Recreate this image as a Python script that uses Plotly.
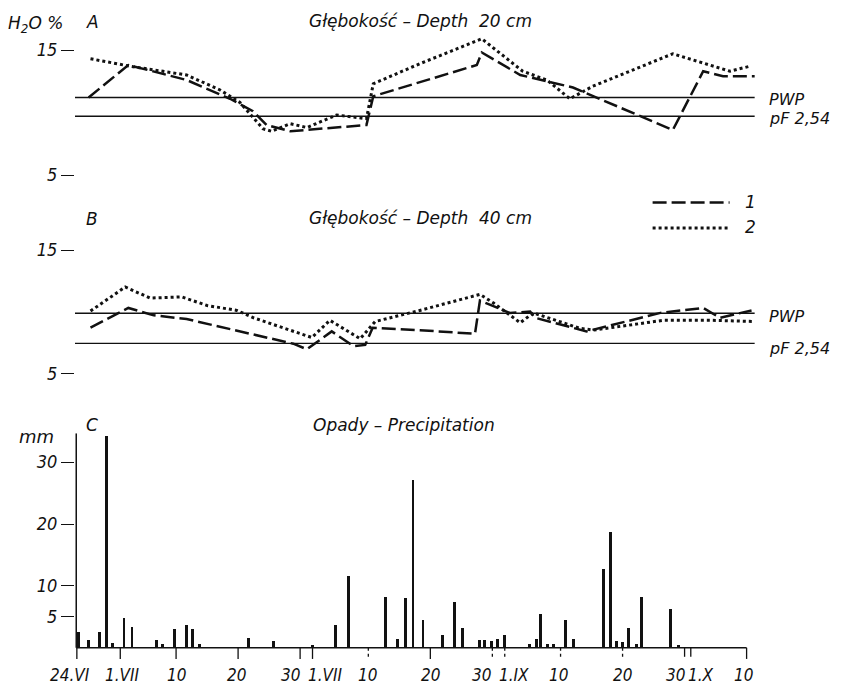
import plotly.graph_objects as go

# ---------------- data (x = days after 24 June) ----------------
# Panel A - depth 20 cm
a1_day = [1.9, 8.3, 17.7, 24.7, 28.4, 30.6, 34.4, 46.7, 47.8, 64.5, 65.3, 71.5, 80.0, 96.1, 101.0, 104.2, 109.3]
a1_val = [11.2, 13.8, 12.6, 11.1, 10.1, 9.0, 8.5, 9.0, 11.3, 13.8, 14.8, 13.0, 12.0, 8.6, 13.3, 12.9, 12.9]
a2_day = [2.2, 8.6, 17.7, 23.1, 26.3, 30.0, 31.4, 34.4, 37.1, 41.9, 46.7, 47.8, 55.3, 65.3, 71.9, 75.8, 79.5, 83.2, 96.1, 101.5, 105.3, 108.5]
a2_val = [14.3, 13.7, 13.0, 11.8, 10.8, 8.7, 8.5, 9.1, 8.8, 9.8, 9.5, 12.3, 13.9, 15.9, 13.3, 12.6, 11.1, 12.1, 14.7, 13.9, 13.3, 13.7]
a_pwp, a_pf = 11.2, 9.7

# Panel B - depth 40 cm
b1_day = [2.2, 8.3, 12.4, 17.7, 34.9, 37.1, 41.1, 44.6, 46.5, 47.7, 55.3, 64.2, 65.0, 69.8, 73.1, 73.9, 82.2, 94.1, 101.0, 103.7, 108.8]
b1_val = [8.7, 10.3, 9.7, 9.4, 7.4, 6.95, 8.4, 7.2, 7.3, 8.7, 8.5, 8.2, 10.9, 9.9, 10.0, 9.5, 8.4, 9.9, 10.3, 9.5, 10.1]
b2_day = [2.2, 7.8, 11.8, 16.9, 21.0, 25.8, 28.5, 37.9, 40.8, 45.7, 48.1, 55.3, 65.0, 67.2, 71.5, 73.6, 81.1, 83.3, 94.6, 102.1, 109.3]
b2_val = [10.05, 12.0, 11.1, 11.2, 10.5, 10.1, 9.5, 7.9, 9.3, 7.8, 9.2, 10.1, 11.4, 10.7, 9.1, 9.9, 8.65, 8.5, 9.3, 9.3, 9.2]
b_pwp, b_pf = 9.87, 7.43

# Panel C - precipitation (mm)
rain_day = [0.2, 1.9, 3.6, 4.8, 5.7, 7.6, 8.9, 12.8, 13.8, 15.7, 17.7, 18.6, 19.8, 27.7, 31.7,
            38.0, 41.7, 43.8, 49.8, 51.7, 53.0, 54.2, 55.8, 59.0, 60.9, 62.2, 64.9, 65.7, 66.8,
            67.8, 69.0, 73.0, 74.1, 74.8, 75.9, 76.8, 78.8, 80.1, 84.9, 86.1, 87.0, 88.0, 88.9,
            90.2, 91.0, 95.7, 97.0]
rain_mm = [2.5, 1.2, 2.5, 34.1, 0.7, 4.8, 3.3, 1.2, 0.6, 3.0, 3.6, 3.0, 0.6, 1.6, 1.0,
           0.4, 3.6, 11.6, 8.2, 1.4, 8.0, 27.0, 4.5, 2.0, 7.4, 3.1, 1.2, 1.2, 1.1,
           1.4, 2.0, 0.5, 1.4, 5.4, 0.5, 0.5, 4.5, 1.4, 12.7, 18.7, 1.0, 0.9, 3.2,
           0.5, 8.1, 6.2, 0.4]

tick_day = [0, 7, 16, 26, 36, 38, 47, 57, 67, 69, 78, 88, 98, 99, 108]
tick_text = ["24.VI", "1.VII", "10", "20", "30", "1.VII", "10", "20", "30", "1.IX", "10", "20", "30", "1.X", "10"]
tick_shift = [-7, 2, 0, -2, -10, 13, -1, 0, -11, 9, -2, 0, -9, 10, -3]
tick_dash = ["solid", "solid", "solid", "solid", "solid", "solid", "dot", "solid", "dot", "dot",
             "dot", "dot", "dash", "dash", "solid"]

# ---------------- layout geometry ----------------
W, H = 842, 685
PXD = 6.204
X0, X1 = -0.3, 110.0
L = 77 + X0 * PXD
PW = (X1 - X0) * PXD
R = W - L - PW

def xp(px):
    return (px - L) / PW

def yp(py):
    return 1 - py / H

INK = "#111111"
FONT = "DejaVu Sans Condensed, DejaVu Sans, sans-serif"
TFONT = "DejaVu Sans, sans-serif"
DASH1 = "14px,5px"

def yrng(v_hi, px_hi, v_lo, px_lo, top_px, bot_px):
    k = (px_lo - px_hi) / (v_hi - v_lo)
    return [v_lo - (bot_px - px_lo) / k, v_hi + (px_hi - top_px) / k]

ra = yrng(15, 50, 5, 175, 35, 180)
rb = yrng(15, 250, 5, 373.3, 235, 380)
kc = 6.19
rc = [-(659 - 647.8) / kc, (647.8 - 433.3) / kc]

fig = go.Figure()
fig.add_trace(go.Scatter(x=a1_day, y=a1_val, mode="lines", line=dict(color=INK, width=2.5, dash=DASH1),
                         xaxis="x", yaxis="y", showlegend=False))
fig.add_trace(go.Scatter(x=a2_day, y=a2_val, mode="lines", line=dict(color=INK, width=3, dash="3px,3px"),
                         xaxis="x", yaxis="y", showlegend=False))
fig.add_trace(go.Scatter(x=b1_day, y=b1_val, mode="lines", line=dict(color=INK, width=2.5, dash=DASH1),
                         xaxis="x2", yaxis="y2", showlegend=False))
fig.add_trace(go.Scatter(x=b2_day, y=b2_val, mode="lines", line=dict(color=INK, width=3, dash="3px,3px"),
                         xaxis="x2", yaxis="y2", showlegend=False))
fig.add_trace(go.Bar(x=rain_day, y=rain_mm, width=0.45, marker=dict(color=INK, line=dict(width=0)),
                     xaxis="x3", yaxis="y3", showlegend=False))

tickfont = dict(family=FONT, size=17, color=INK, style="italic")
ytickfont = dict(family=FONT, size=18, color=INK, style="italic")
hidden_x = dict(range=[X0, X1], visible=False, domain=[0, 1])
def yax(dom, rng, vals, anchor):
    return dict(domain=dom, range=rng, tickvals=vals, ticktext=[str(v) for v in vals],
                ticks="outside", ticklen=13, tickwidth=1.3, tickcolor=INK, showline=False,
                showgrid=False, zeroline=False, tickfont=ytickfont, ticklabelstandoff=0,
                anchor=anchor, fixedrange=True)

fig.update_layout(
    width=W, height=H, margin=dict(l=L, r=R, t=0, b=0, autoexpand=False),
    paper_bgcolor="white", plot_bgcolor="white", showlegend=False, bargap=0,
    xaxis=hidden_x, xaxis2=dict(hidden_x, anchor="y2"),
    xaxis3=dict(range=[X0, X1], domain=[0, 1], anchor="y3", showticklabels=False, ticks="",
                showline=False, showgrid=False, zeroline=False),
    yaxis=yax([yp(180), yp(35)], ra, [5, 15], "x"),
    yaxis2=yax([yp(380), yp(235)], rb, [5, 15], "x2"),
    yaxis3=yax([yp(659), yp(433.3)], rc, [5, 10, 20, 30], "x3"),
)

shapes = []
for yref, vals in (("y", (a_pwp, a_pf)), ("y2", (b_pwp, b_pf))):
    xr = "x" if yref == "y" else "x2"
    for v in vals:
        shapes.append(dict(type="line", xref=xr, yref=yref, x0=X0, x1=109.3, y0=v, y1=v,
                           line=dict(color=INK, width=1.3)))
shapes.append(dict(type="line", xref="x3", yref="y3", x0=-0.1, x1=108, y0=0, y1=0,
                   line=dict(color=INK, width=1.5)))
shapes.append(dict(type="line", xref="x3", yref="y3", x0=-0.1, x1=-0.1, y0=0, y1=rc[1],
                   line=dict(color=INK, width=1.5)))
for d, ds in zip(tick_day, tick_dash):
    shapes.append(dict(type="line", xref="x3", yref="y3", x0=d, x1=d, y0=0, y1=-1.8,
                       line=dict(color=INK, width=1.3, dash=ds)))
# legend samples
shapes.append(dict(type="line", xref="paper", yref="paper", x0=xp(653), x1=xp(730), y0=yp(202.5), y1=yp(202.5),
                   line=dict(color=INK, width=2.5, dash=DASH1)))
shapes.append(dict(type="line", xref="paper", yref="paper", x0=xp(653), x1=xp(728), y0=yp(228), y1=yp(228),
                   line=dict(color=INK, width=3, dash="3px,3px")))
fig.update_layout(shapes=shapes)

def txt(s, px, py, size=17, anchor="center", fam=TFONT):
    return dict(text=s, x=xp(px), y=yp(py), xref="paper", yref="paper", showarrow=False,
                xanchor=anchor, yanchor="middle",
                font=dict(family=fam, size=size, color=INK, style="italic"))

ann = [
    txt("H<sub>2</sub>O %", 6, 24, 17, "left"),
    txt("A", 92.5, 22, 17),
    txt("Głębokość – Depth  20 cm", 421, 21, 17),
    txt("B", 92.5, 219, 17),
    txt("Głębokość – Depth  40 cm", 421, 218, 17),
    txt("1", 751, 202, 17),
    txt("2", 751, 227, 17),
    txt("C", 92.5, 425, 17),
    txt("mm", 37, 436, 18),
    txt("Opady – Precipitation", 404, 425, 17),
    txt("PWP", 767, 99, 16, "left"),
    txt("pF 2,54", 767, 119, 16, "left"),
    txt("PWP", 767, 316.7, 16, "left"),
    txt("pF 2,54", 767, 348.5, 16, "left"),
]
for d, t, s in zip(tick_day, tick_text, tick_shift):
    ann.append(dict(text=t, x=d, y=yp(675), xref="x3", yref="paper", xshift=s, showarrow=False,
                    xanchor="center", yanchor="middle", font=tickfont))
fig.update_layout(annotations=ann)

fig.write_html("out.html")
